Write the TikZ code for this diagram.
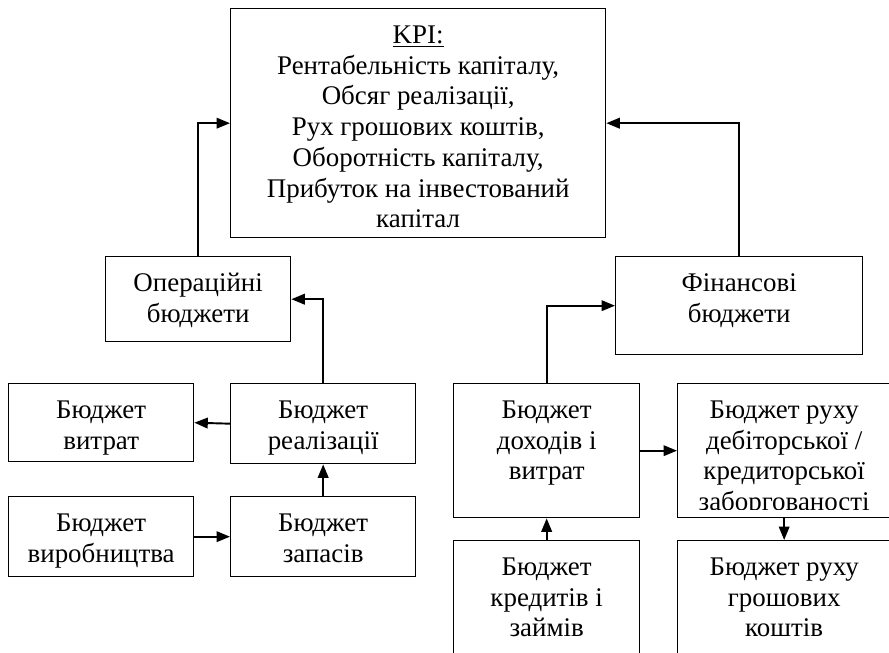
\documentclass[tikz,border=0pt]{standalone}
\usepackage{fontspec}
\setmainfont{Liberation Serif}
\usetikzlibrary{arrows.meta}
\newdimen\px \px=0.52pt
% top aligned text of a fixed size box: width, height, lines
\newcommand{\boxtext}[3]{\parbox[c][#2\px][t]{#1\px}{\centering\rule{0pt}{18pt}#3}}

\begin{document}
\begin{tikzpicture}[x=0.52pt, y=-0.52pt,
    budget/.style={draw, line width=0.7pt, inner sep=0pt, anchor=north west,
      font=\fontsize{14}{16}\selectfont},
    link/.style={line width=1pt, -{Triangle[length=7pt,width=5.5pt]}}]
  \useasboundingbox (0,0) rectangle (889,652);
  % KPI
  \node[budget] (kpi) at (230,8) {\boxtext{375}{229}{\underline{KPI:}\\Рентабельність капіталу,\\Обсяг реалізації,\\Рух грошових коштів,\\Оборотність капіталу,\\Прибуток на інвестований\\капітал}};
  % operational side
  \node[budget] (oper) at (105,256) {\boxtext{185}{85}{Операційні\\бюджети}};
  \node[budget] (vytr) at (8,383) {\boxtext{185}{78}{Бюджет\\витрат}};
  \node[budget] (real) at (230,383) {\boxtext{185}{80}{Бюджет\\реалізації}};
  \node[budget] (vyrob) at (8,496) {\boxtext{185}{80}{Бюджет\\виробництва}};
  \node[budget] (zap) at (230,496) {\boxtext{185}{80}{Бюджет\\запасів}};
  % financial side
  \node[budget] (fin) at (615,256) {\boxtext{247}{98}{Фінансові\\бюджети}};
  \node[budget] (doh) at (453,383) {\boxtext{186}{134}{Бюджет\\доходів і\\витрат}};
  \node[budget] (deb) at (677,383) {\boxtext{213}{134}{Бюджет руху\\дебіторської /\\кредиторської\\заборгованості}};
  \node[budget] (kred) at (453,540) {\boxtext{186}{120}{Бюджет\\кредитів і\\займів}};
  \node[budget] (grosh) at (677,540) {\boxtext{213}{120}{Бюджет руху\\грошових\\коштів}};
  % last line of the text box is cut off
  \fill[white] (678.5,509.5) rectangle (889,516);
  % links
  \draw[link] (oper.north) |- (kpi.west);
  \draw[link] (fin.north) |- (kpi.east);
  \draw[link] (real.north) |- (oper.east);
  \draw[link] (real.west) -- (vytr.east);
  \draw[link] (vyrob.east) -- (zap.west);
  \draw[link] (zap.north) -- (real.south);
  \draw[link] (doh.north) |- (fin.west);
  \draw[link] (doh.east) -- (deb.west);
  \draw[link] (kred.north) -- (doh.south);
  \draw[link] (deb.south) -- (grosh.north);
\end{tikzpicture}
\end{document}
